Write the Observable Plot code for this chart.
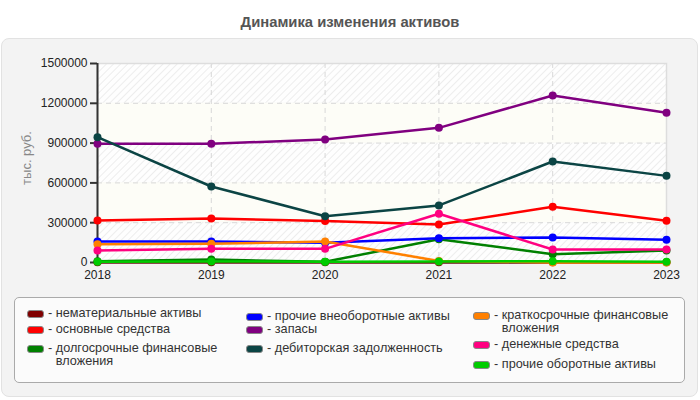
<!DOCTYPE html>
<html>
<head>
<meta charset="utf-8">
<script src="https://cdn.jsdelivr.net/npm/d3@7"></script>
<script src="https://cdn.jsdelivr.net/npm/@observablehq/plot@0.6"></script>
<style>
  html, body { margin: 0; padding: 0; background: #ffffff; }
  body { width: 700px; height: 400px; position: relative; overflow: hidden; font-family: "Liberation Sans", Arial, sans-serif; }
  #title { position: absolute; left: 0; top: 13px; width: 700px; text-align: center; font-size: 14.8px; font-weight: bold; color: #555; line-height: 18px; }
  #panel { position: absolute; left: 1px; top: 38px; width: 695px; height: 357px; background: #f3f3f3; border: 1px solid #e2e2e2; border-radius: 8px; }
  #chart { position: absolute; left: 0; top: 0; }
  #ylabel { position: absolute; left: 26px; top: 158px; transform: translate(-50%, -50%) rotate(-90deg); font-size: 13px; color: #888; white-space: nowrap; }
  #legend { position: absolute; left: 14px; top: 297px; width: 669px; height: 84px; background: #fbfbfb; border: 1px solid #aaa; border-radius: 5px; }
  .item { position: absolute; display: flex; align-items: flex-start; font-size: 12.7px; line-height: 13px; color: #333; }
  .sw { width: 15px; height: 6px; border: 1px solid #888; border-radius: 3px; margin-top: 2.5px; margin-right: 4px; flex: none; }
  .dash { flex: none; white-space: pre; }
</style>
</head>
<body>
<svg width="0" height="0" style="position:absolute">
  <defs>
    <pattern id="hatch" patternUnits="userSpaceOnUse" width="5" height="5" patternTransform="rotate(45)">
      <rect width="5" height="5" fill="#fefefe"></rect>
      <line x1="0" y1="0" x2="0" y2="5" stroke="#ededed" stroke-width="2"></line>
    </pattern>
  </defs>
</svg>
<div id="title">Динамика изменения активов</div>
<div id="panel"></div>
<div id="chart"></div>
<div id="ylabel">тыс. руб.</div>
<div id="legend"></div>
<script>
const years = [2018, 2019, 2020, 2021, 2022, 2023];
const yTicks = [0, 300000, 600000, 900000, 1200000, 1500000];

const seriesNames = [
  "нематериальные активы",
  "основные средства",
  "долгосрочные финансовые вложения",
  "прочие внеоборотные активы",
  "запасы",
  "дебиторская задолженность",
  "краткосрочные финансовые вложения",
  "денежные средства",
  "прочие оборотные активы"
];
const seriesColors = ["#800000", "#ff0000", "#008000", "#0000ff", "#800080", "#0b4444", "#ff8000", "#ff0080", "#00cc00"];

const intangibleAssets   = [1000, 1000, 1000, 1000, 1000, 1000];
const fixedAssets        = [316000, 331000, 313000, 286000, 420000, 314000];
const longTermInvest     = [10000, 22000, 5000, 176000, 63000, 90000];
const otherNonCurrent    = [159000, 159000, 148000, 183000, 188000, 171000];
const inventories        = [895000, 895000, 927000, 1015000, 1259000, 1128000];
const receivables        = [945000, 573000, 349000, 430000, 761000, 653000];
const shortTermInvest    = [137000, 141000, 158000, 12000, 0, 0];
const cash               = [90000, 103000, 103000, 367000, 98000, 98000];
const otherCurrent       = [5000, 8000, 5000, 8000, 10000, 5000];

const seriesValues = [intangibleAssets, fixedAssets, longTermInvest, otherNonCurrent, inventories, receivables, shortTermInvest, cash, otherCurrent];

const bands = yTicks.slice(0, -1).map((v, i) => ({y1: v, y2: yTicks[i + 1], hatched: i % 2 === 0}));

const marks = [
  Plot.rect(bands.filter(d => d.hatched), {x1: years[0], x2: years[years.length - 1], y1: "y1", y2: "y2", fill: "url(#hatch)"}),
  Plot.rect(bands.filter(d => !d.hatched), {x1: years[0], x2: years[years.length - 1], y1: "y1", y2: "y2", fill: "#fdfdf7"}),
  Plot.gridX(years.slice(1, -1), {stroke: "#d8d8d8", strokeOpacity: 1, strokeDasharray: "5,4"}),
  Plot.gridY(yTicks.slice(1, -1), {stroke: "#d8d8d8", strokeOpacity: 1, strokeDasharray: "5,4"}),
  Plot.frame({stroke: "#dddddd", strokeWidth: 1.5}),
  Plot.axisY(yTicks, {label: null, tickSize: 7, tickPadding: 3, tickFormat: d => String(d), fontSize: 12, fill: "#222", stroke: "#333", strokeWidth: 2}),
  Plot.axisX(years, {label: null, tickSize: 0, tickPadding: 8, tickFormat: d => String(d), fontSize: 12, fill: "#222"}),
  Plot.ruleX([years[0]], {stroke: "#333", strokeWidth: 2}),
  Plot.ruleY([0], {stroke: "#333", strokeWidth: 2})
];

seriesNames.forEach((name, i) => {
  const rows = years.map((yr, j) => ({year: yr, value: seriesValues[i][j]}));
  marks.push(Plot.line(rows, {x: "year", y: "value", stroke: seriesColors[i], strokeWidth: 2.5}));
  marks.push(Plot.dot(rows, {x: "year", y: "value", fill: seriesColors[i], r: 4, stroke: "none"}));
});

const chart = Plot.plot({
  width: 700,
  height: 290,
  marginTop: 63,
  marginBottom: 28,
  marginLeft: 97,
  marginRight: 34,
  style: {background: "transparent", fontFamily: "'Liberation Sans', Arial, sans-serif", fontSize: "12px", color: "#222"},
  x: {domain: [years[0], years[years.length - 1]], axis: null, label: null},
  y: {domain: [0, 1500000], axis: null, label: null},
  marks
});
document.getElementById("chart").appendChild(chart);

// legend
const legendPos = [
  {x: 12, y: 9, w: 190},
  {x: 12, y: 25, w: 190},
  {x: 12, y: 44, w: 175},
  {x: 231, y: 12, w: 210},
  {x: 231, y: 25, w: 210},
  {x: 231, y: 44, w: 210},
  {x: 458, y: 11, w: 180},
  {x: 458, y: 40, w: 195},
  {x: 458, y: 60, w: 195}
];
const legend = document.getElementById("legend");
seriesNames.forEach((name, i) => {
  const p = legendPos[i];
  const item = document.createElement("div");
  item.className = "item";
  item.style.left = p.x + "px";
  item.style.top = p.y + "px";
  const sw = document.createElement("div");
  sw.className = "sw";
  sw.style.background = seriesColors[i];
  const dash = document.createElement("span");
  dash.className = "dash";
  dash.textContent = "- ";
  const txt = document.createElement("span");
  txt.textContent = name;
  txt.style.width = p.w + "px";
  item.appendChild(sw);
  item.appendChild(dash);
  item.appendChild(txt);
  legend.appendChild(item);
});
</script>
</body>
</html>
